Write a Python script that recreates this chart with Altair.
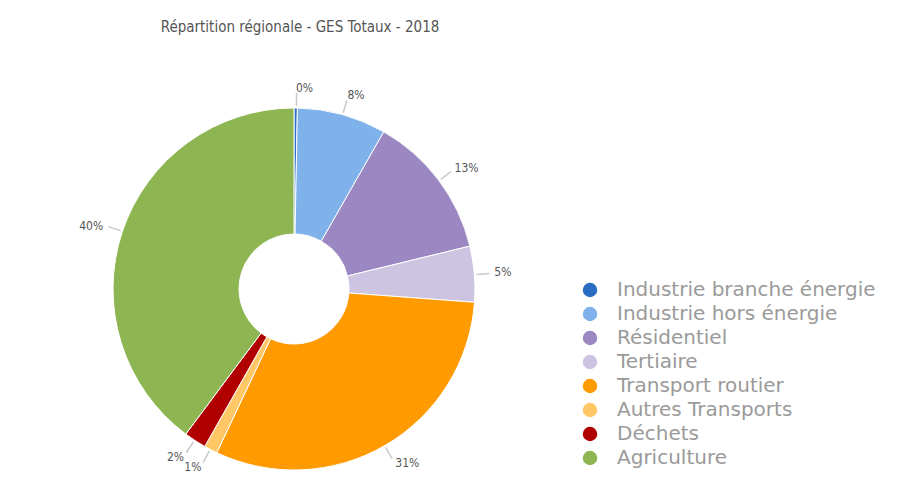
import altair as alt
import pandas as pd

categories = ["Industrie branche énergie", "Industrie hors énergie", "Résidentiel", "Tertiaire",
              "Transport routier", "Autres Transports", "Déchets", "Agriculture"]
values = [0.3, 8, 13, 5, 31, 1.2, 2, 40]
labels = ["0%", "8%", "13%", "5%", "31%", "1%", "2%", "40%"]
colors = ["#2b6cc4", "#7fb2ea", "#9b88c2", "#cdc4e2", "#ff9a00", "#ffc766", "#b00000", "#8db653"]

df = pd.DataFrame({"cat": categories, "value": values, "label": labels, "idx": list(range(len(categories)))})
total = float(sum(values))

CX, CY = 286, 281
theta_scale = alt.Scale(domain=[0, total])

pie = alt.Chart(df).mark_arc(innerRadius=55, outerRadius=181, stroke="white", strokeWidth=1).encode(
    theta=alt.Theta("value:Q", stack=True, scale=theta_scale),
    order=alt.Order("idx:Q"),
    x=alt.value(CX), y=alt.value(CY),
    color=alt.Color("cat:N", sort=categories,
                    scale=alt.Scale(domain=categories, range=colors),
                    legend=alt.Legend(title=None, orient="none", legendX=572, legendY=272,
                                      symbolType="circle", symbolSize=210, symbolStrokeWidth=0,
                                      labelFontSize=20, labelColor="#9a9a9a", labelFont="DejaVu Sans",
                                      rowPadding=4, symbolOffset=0, labelOffset=17, labelLimit=400)),
)

mids = alt.Chart(df).transform_window(
    cum="sum(value)", sort=[alt.SortField("idx")]
).transform_calculate(
    mid="datum.cum - datum.value / 2", mid2="datum.cum - datum.value / 2 + 0.12"
)

leaders = mids.mark_arc(innerRadius=183, outerRadius=196, color="#c8c8c8").encode(
    x=alt.value(CX), y=alt.value(CY),
    theta=alt.Theta("mid:Q", scale=theta_scale), theta2="mid2:Q",
)

text_right = mids.transform_filter(f"datum.mid <= {total / 2}").mark_text(
    radius=201, fontSize=12, color="#555555", font="DejaVu Sans Condensed", align="left"
).encode(x=alt.value(CX), y=alt.value(CY), theta=alt.Theta("mid:Q", scale=theta_scale), text="label:N")

text_left = mids.transform_filter(f"datum.mid > {total / 2}").mark_text(
    radius=201, fontSize=12, color="#555555", font="DejaVu Sans Condensed", align="right"
).encode(x=alt.value(CX), y=alt.value(CY), theta=alt.Theta("mid:Q", scale=theta_scale), text="label:N")

title = alt.Chart(pd.DataFrame({"t": ["Répartition régionale - GES Totaux - 2018"]})).mark_text(
    fontSize=15, color="#555555", font="DejaVu Sans Condensed"
).encode(x=alt.value(292), y=alt.value(19), text="t:N")

chart = alt.layer(pie, leaders, text_right, text_left, title).properties(
    width=890, height=470, padding=0, autosize=alt.AutoSizeParams(type="none")
).configure_view(stroke=None)

chart.save("out.html", embed_options={"renderer": "svg", "actions": False})
